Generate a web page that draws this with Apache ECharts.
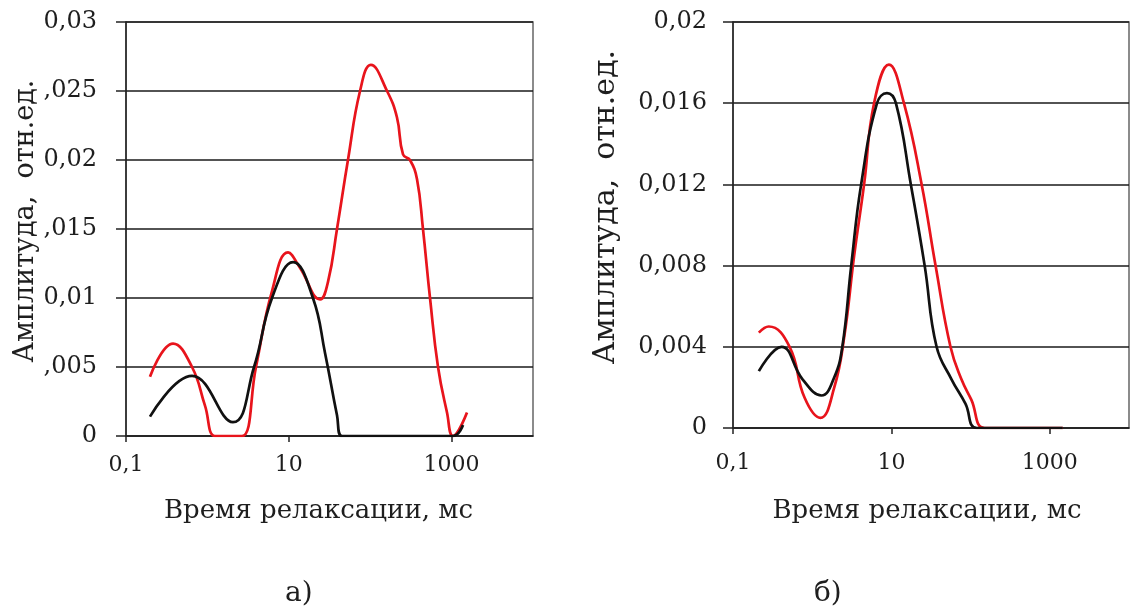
<!DOCTYPE html>
<html>
<head>
<meta charset="utf-8">
<script src="https://cdn.jsdelivr.net/npm/echarts@6/dist/echarts.min.js"></script>
<style>
html,body{margin:0;padding:0;background:#fff;}
#c{width:1131px;height:609px;}
</style>
</head>
<body>
<div id="c"></div>
<script>
// ---- Data (relaxation time, ms ; amplitude, rel. units) ----
// Panel а)
const aRedTime   = [0.197, 0.378, 0.647, 0.934, 1.24, 1.8, 2.66, 3.95, 6.22, 9.78, 13.7, 24.2, 30.4, 39.1, 53.3, 75, 102, 161, 213, 253, 308, 376, 445, 543, 681, 878, 1040, 1546];
const aRedAmp    = [0.0043, 0.0067, 0.0050, 0.0022, 0, 0, 0, 0.0050, 0.0105, 0.0133, 0.0122, 0.0099, 0.0112, 0.0150, 0.0200, 0.0250, 0.0269, 0.0250, 0.0231, 0.0204, 0.0200, 0.0186, 0.0150, 0.0100, 0.0050, 0.0017, 0, 0.0017];
const aBlackTime = [0.197, 0.647, 2.06, 3.74, 6.22, 11.3, 19.8, 27.9, 39.1, 45, 200, 1040, 1380];
const aBlackAmp  = [0.0014, 0.00435, 0.0010, 0.0050, 0.0100, 0.0126, 0.0100, 0.0060, 0.0015, 0, 0, 0, 0.0008];
// Panel б)
const bRedTime   = [0.212, 0.283, 0.518, 0.80, 1.27, 1.90, 2.54, 3.39, 4.52, 6.04, 9.31, 14.4, 24.1, 36.1, 55.7, 76.6, 102, 150, 400, 1455];
const bRedAmp    = [0.0047, 0.0050, 0.0040, 0.0015, 0.0005, 0.0020, 0.0045, 0.0085, 0.0120, 0.0160, 0.0179, 0.0160, 0.0120, 0.0080, 0.0040, 0.0024, 0.0014, 0, 0, 0];
const bBlackTime = [0.212, 0.411, 0.755, 1.31, 1.90, 2.40, 3.11, 4.15, 6.58, 8.79, 11.4, 17.6, 26.3, 37.2, 57.4, 86, 120, 400, 1455];
const bBlackAmp  = [0.0028, 0.0040, 0.0024, 0.0016, 0.0025, 0.0040, 0.0080, 0.0120, 0.0160, 0.0165, 0.0160, 0.0120, 0.0080, 0.0040, 0.0024, 0.0012, 0, 0, 0];

// ---- Tick labels ----
const xTickValues  = [0, 2, 4];                 // decades above 0.1 ms
const xTickLabels  = ['0,1', '10', '1000'];
const aYTickLabels = ['0', ',005', '0,01', ',015', '0,02', ',025', '0,03'];
const bYTickLabels = ['0', '0,004', '0,008', '0,012', '0,016', '0,02'];

const xTitle = 'Время релаксации, мс';
const yTitle = 'Амплитуда,  отн.ед.';
const panelLabels = ['а)', 'б)'];

// x axis is logarithmic: position = log10(t / 0.1 ms)
function pts(ts, vs) { return ts.map((t, i) => [Math.log10(t / 0.1), vs[i]]); }

const FONT = 'DejaVu Serif';
const TXT = '#1e1e1e';
const RED = '#e8141c';
const BLK = '#111111';

function xAxis(gridIndex, labelMargin, nameGap, namePad) {
  return {
    type: 'value', gridIndex, min: 0, max: 5, interval: 2,
    axisLine: {show: true, onZero: false, lineStyle: {color: '#222', width: 1.5}},
    axisTick: {show: true, length: 6, customValues: xTickValues, lineStyle: {color: '#222', width: 1.5}},
    axisLabel: {
      margin: labelMargin, color: TXT, fontFamily: FONT, fontSize: 22,
      customValues: xTickValues,
      formatter: v => {
        const i = xTickValues.findIndex(t => Math.abs(t - v) < 1e-6);
        return i >= 0 ? xTickLabels[i] : '';
      }
    },
    splitLine: {show: false},
    name: xTitle, nameLocation: 'middle', nameGap: nameGap,
    nameTextStyle: {color: TXT, fontFamily: FONT, fontSize: 26, padding: namePad}
  };
}
function yAxis(gridIndex, max, interval, labels, labelMargin, nameGap, fontSize, namePad) {
  return {
    type: 'value', gridIndex, min: 0, max, interval,
    axisLine: {show: true, lineStyle: {color: '#222', width: 1.5}},
    axisTick: {show: true, length: 10, lineStyle: {color: '#222', width: 1.5}},
    axisLabel: {
      margin: labelMargin, color: TXT, fontFamily: FONT, fontSize: 24,
      formatter: v => labels[Math.round(v / interval)]
    },
    splitLine: {show: true, lineStyle: {color: '#1a1a1a', width: 1.5}},
    name: yTitle, nameLocation: 'middle', nameGap: nameGap, nameRotate: 90,
    nameTextStyle: {color: TXT, fontFamily: FONT, fontSize: fontSize, padding: namePad}
  };
}
function line(data, color, xi, yi, z) {
  return {
    type: 'line', xAxisIndex: xi, yAxisIndex: yi, data, smooth: 0.45,
    showSymbol: false, symbol: 'none', z,
    lineStyle: {color, width: 2.7}, itemStyle: {color}
  };
}

const chart = echarts.init(document.getElementById('c'), null, {renderer: 'canvas'});
chart.setOption({
  animation: false,
  backgroundColor: '#ffffff',
  grid: [
    {left: 126, top: 22, width: 407, height: 414, show: true, borderColor: '#666', borderWidth: 1.5, backgroundColor: 'transparent'},
    {left: 733, top: 22, width: 396, height: 406, show: true, borderColor: '#666', borderWidth: 1.5, backgroundColor: 'transparent'}
  ],
  xAxis: [xAxis(0, 18, 62, [0, 22, 0, 0]), xAxis(1, 24, 70, [0, 8, 0, 0])],
  yAxis: [
    yAxis(0, 0.03, 0.005, aYTickLabels, 29, 86, 27, [0, 0, 0, 16]),
    yAxis(1, 0.02, 0.004, bYTickLabels, 26, 112, 30, [0, 0, 0, 36])
  ],
  series: [
    line(pts(aRedTime, aRedAmp), RED, 0, 0, 3),
    line(pts(aBlackTime, aBlackAmp), BLK, 0, 0, 4),
    line(pts(bRedTime, bRedAmp), RED, 1, 1, 3),
    line(pts(bBlackTime, bBlackAmp), BLK, 1, 1, 4)
  ],
  graphic: [
    {type: 'text', left: 285, top: 580, style: {text: panelLabels[0], fill: TXT, font: '28px "DejaVu Serif"'}},
    {type: 'text', left: 814, top: 580, style: {text: panelLabels[1], fill: TXT, font: '28px "DejaVu Serif"'}}
  ]
});
</script>
</body>
</html>
